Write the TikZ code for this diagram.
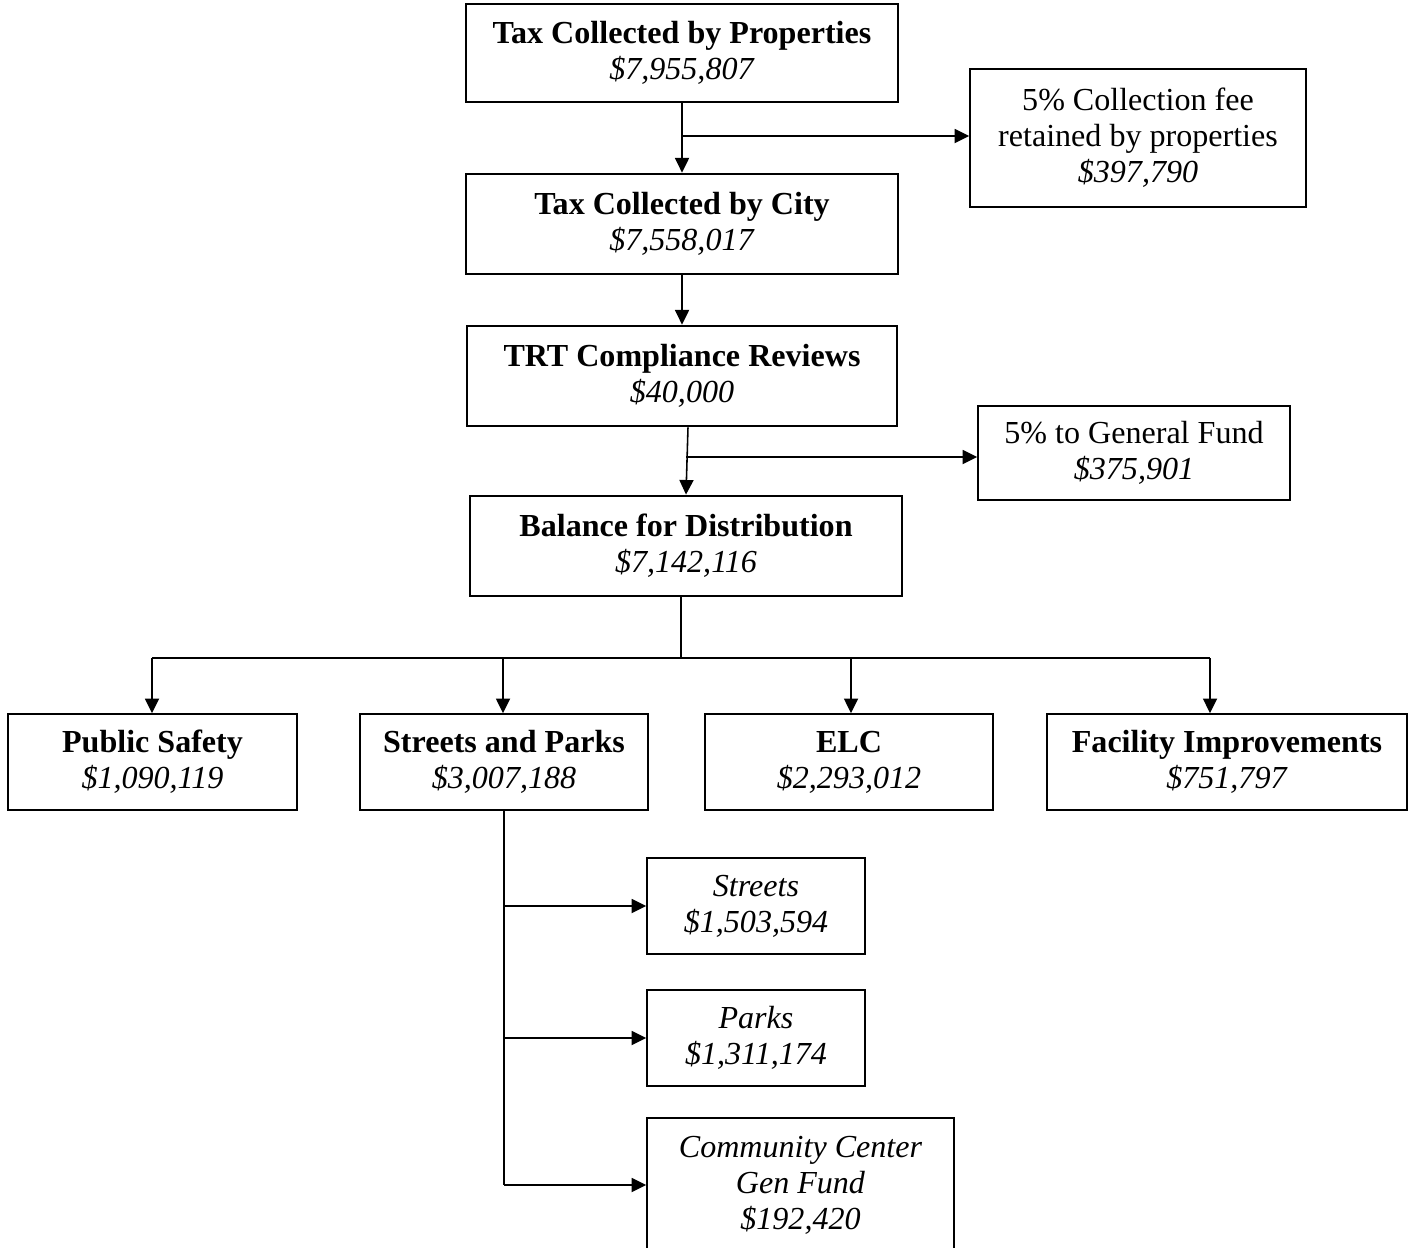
\documentclass[tikz,border=0pt]{standalone}
\usepackage{fontspec}
\setmainfont{Liberation Serif}
\usetikzlibrary{arrows.meta}

\begin{document}
\begin{tikzpicture}[x=0.3835pt,y=-0.3835pt,
  every node/.style={font=\fontsize{12.3}{13.8}\selectfont,align=center},
  fundbox/.style={draw,line width=0.75pt,inner sep=2pt},
  flow/.style={-{Triangle[length=5.6pt,width=5.4pt]},line width=0.6pt}]
  \useasboundingbox (0,0) rectangle (1413,1247);
  % collection chain
  \node[fundbox,minimum width=5.815cm,minimum height=1.333cm] (props) at (682,53) {\textbf{Tax Collected by Properties}\\\textit{\$7,955,807}};
  \node[fundbox,minimum width=4.523cm,minimum height=1.871cm] (fee) at (1138,138) {5\% Collection fee\\retained by properties\\\textit{\$397,790}};
  \node[fundbox,minimum width=5.815cm,minimum height=1.36cm] (city) at (682,224) {\textbf{Tax Collected by City}\\\textit{\$7,558,017}};
  \node[fundbox,minimum width=5.788cm,minimum height=1.36cm] (trt) at (682,376) {\textbf{TRT Compliance Reviews}\\\textit{\$40,000}};
  \node[fundbox,minimum width=4.2cm,minimum height=1.279cm] (genfund) at (1134,453) {5\%\ to General Fund\\\textit{\$375,901}};
  \node[fundbox,minimum width=5.815cm,minimum height=1.36cm] (balance) at (686,546) {\textbf{Balance for Distribution}\\\textit{\$7,142,116}};
  % distribution
  \node[fundbox,minimum width=3.89cm,minimum height=1.292cm] (safety) at (152.5,762) {\textbf{Public Safety}\\\textit{\$1,090,119}};
  \node[fundbox,minimum width=3.877cm,minimum height=1.292cm] (sparks) at (504,762) {\textbf{Streets and Parks}\\\textit{\$3,007,188}};
  \node[fundbox,minimum width=3.877cm,minimum height=1.292cm] (elc) at (849,762) {\textbf{ELC}\\\textit{\$2,293,012}};
  \node[fundbox,minimum width=4.846cm,minimum height=1.292cm] (facility) at (1227,762) {\textbf{Facility Improvements}\\\textit{\$751,797}};
  % streets and parks split
  \node[fundbox,minimum width=2.934cm,minimum height=1.292cm] (streets) at (756,906) {\textit{Streets}\\\textit{\$1,503,594}};
  \node[fundbox,minimum width=2.934cm,minimum height=1.292cm] (parks) at (756,1038) {\textit{Parks}\\\textit{\$1,311,174}};
  \node[fundbox,minimum width=4.133cm,minimum height=1.817cm] (comm) at (800.5,1185) {\textit{Community Center}\\\textit{Gen Fund}\\\textit{\$192,420}};
  % junctions
  \coordinate (j1) at (681,136);
  \coordinate (j2) at (686,457);
  \coordinate (bus) at (681,658);
  \coordinate (b1) at (152,658);
  \coordinate (b2) at (503,658);
  \coordinate (b3) at (851,658);
  \coordinate (b4) at (1210,658);
  % connectors
  \draw[flow] (props.south) -- (city.north);
  \draw[flow] (j1) -- (j1 -| fee.west);
  \draw[flow] (city.south) -- (trt.north);
  \draw[flow] ([xshift=2.3pt]trt.south) -- (balance.north);
  \draw[flow] (j2) -- (j2 -| genfund.west);
  \draw[line width=0.6pt] (balance.south -| bus) -- (bus);
  \draw[line width=0.6pt] (b1) -- (b4);
  \draw[flow] (b1) -- (b1 |- safety.north);
  \draw[flow] (b2) -- (b2 |- sparks.north);
  \draw[flow] (b3) -- (b3 |- elc.north);
  \draw[flow] (b4) -- (b4 |- facility.north);
  \draw[line width=0.6pt] (sparks.south) -- (sparks.south |- comm.west);
  \draw[flow] (sparks.south |- streets.west) -- (streets.west);
  \draw[flow] (sparks.south |- parks.west) -- (parks.west);
  \draw[flow] (sparks.south |- comm.west) -- (comm.west);
\end{tikzpicture}
\end{document}
